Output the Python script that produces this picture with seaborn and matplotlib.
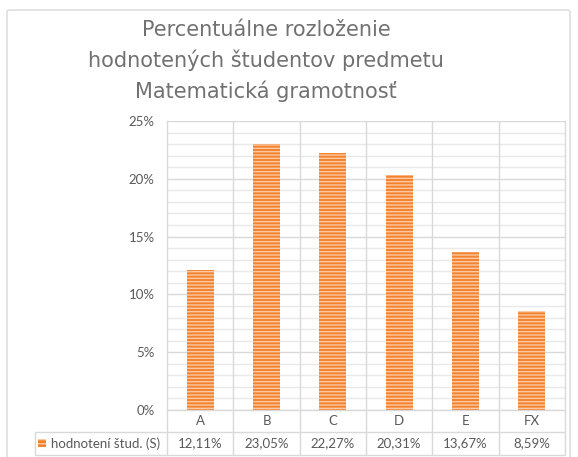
import numpy as np
import pandas as pd
import matplotlib
matplotlib.use("Agg")
import matplotlib.pyplot as plt
import matplotlib.transforms as mtransforms
from matplotlib.lines import Line2D
from matplotlib.patches import FancyBboxPatch, Rectangle
from matplotlib.ticker import MultipleLocator, FuncFormatter
import seaborn as sns

# data
categories = ["A", "B", "C", "D", "E", "FX"]
values = [12.11, 23.05, 22.27, 20.31, 13.67, 8.59]
value_labels = ["12,11%", "23,05%", "22,27%", "20,31%", "13,67%", "8,59%"]
series_name = "hodnotení štud. (S)"
title = "Percentuálne rozloženie\nhodnotených študentov predmetu\nMatematická gramotnosť"

df = pd.DataFrame({"grade": categories, "pct": values})

sns.set_theme(style="white")
plt.rcParams["font.family"] = ["Lato", "DejaVu Sans"]
plt.rcParams["hatch.linewidth"] = 1.0

W, H = 578, 457
fig = plt.figure(figsize=(W / 100, H / 100), dpi=100)

grey_txt = "#595959"
grid_major = "#d9d9d9"
grid_minor = "#e9e9e9"
bar_color = "#f4832f"
hatch_color = "#fbc9a3"

# chart border
fig.patches.append(FancyBboxPatch((7 / W, -0.05), 563 / W, 1.05 - 10 / H,
                                  boxstyle="round,pad=0,rounding_size=0.004",
                                  transform=fig.transFigure, fill=False,
                                  edgecolor="#d9d9d9", linewidth=1.0))

left, right, top, bottom = 167, 565, 121, 410
ax = fig.add_axes([left / W, 1 - bottom / H, (right - left) / W, (bottom - top) / H])

sns.barplot(data=df, x="grade", y="pct", ax=ax, width=0.41, color=bar_color,
            saturation=1, hatch="-----", edgecolor=hatch_color, linewidth=0,
            zorder=3)

ax.set_ylim(0, 25)
ax.set_xlim(-0.5, len(categories) - 0.5)
ax.yaxis.set_major_locator(MultipleLocator(5))
ax.yaxis.set_minor_locator(MultipleLocator(1))
ax.yaxis.set_major_formatter(FuncFormatter(lambda v, p: f"{v:.0f}%"))
ax.set_axisbelow(True)
ax.grid(axis="y", which="major", color=grid_major, linewidth=1.0)
ax.grid(axis="y", which="minor", color=grid_minor, linewidth=1.0)
for i in range(len(categories) - 1):
    ax.axvline(i + 0.5, color=grid_major, linewidth=1.0, zorder=1)
for s in ["top", "bottom"]:
    ax.spines[s].set_visible(False)
for s in ["left", "right"]:
    ax.spines[s].set_color(grid_major)
    ax.spines[s].set_linewidth(1.0)
ax.set_xlabel("")
ax.set_ylabel("")
ax.set_xticks([])
ax.tick_params(axis="y", which="both", length=0, pad=9, labelsize=9.5,
               labelcolor=grey_txt)

# data table below the plot
y_cat, y_val, y_end = bottom, 432, 455
line_kw = dict(color=grid_major, linewidth=1.0, transform=fig.transFigure)
fx = lambda x: x / W
fy = lambda y: 1 - y / H
fig.lines.append(Line2D([fx(left), fx(right)], [fy(y_cat)] * 2, **line_kw))
fig.lines.append(Line2D([fx(35), fx(right)], [fy(y_val)] * 2, **line_kw))
fig.lines.append(Line2D([fx(35), fx(right)], [fy(y_end)] * 2, **line_kw))
fig.lines.append(Line2D([fx(35), fx(35)], [fy(y_val), fy(y_end)], **line_kw))

trans = mtransforms.blended_transform_factory(ax.transData, fig.transFigure)
for i in range(len(categories) + 1):
    fig.lines.append(Line2D([i - 0.5, i - 0.5], [fy(y_cat), fy(y_end)],
                            color=grid_major, linewidth=1.0, transform=trans))
for i, (c, v) in enumerate(zip(categories, value_labels)):
    fig.text(i, fy((y_cat + y_val) / 2), c, transform=trans, ha="center",
             va="center", fontsize=9.5, color=grey_txt)
    fig.text(i, fy((y_val + y_end) / 2), v, transform=trans, ha="center",
             va="center", fontsize=9.5, color=grey_txt)

# legend key in the table
fig.patches.append(Rectangle((fx(38), fy(447)), 8 / W, 8 / H, transform=fig.transFigure,
                             facecolor=bar_color, hatch="----", edgecolor=hatch_color,
                             linewidth=0))
fig.text(fx(51), fy((y_val + y_end) / 2), series_name, ha="left", va="center",
         fontsize=9.5, color=grey_txt)

fig.text(fx(266), fy(61), title, ha="center", va="center", fontsize=15,
         color="#717171", linespacing=1.55, family=["DejaVu Sans"])

fig.savefig("out.png", dpi=100)
